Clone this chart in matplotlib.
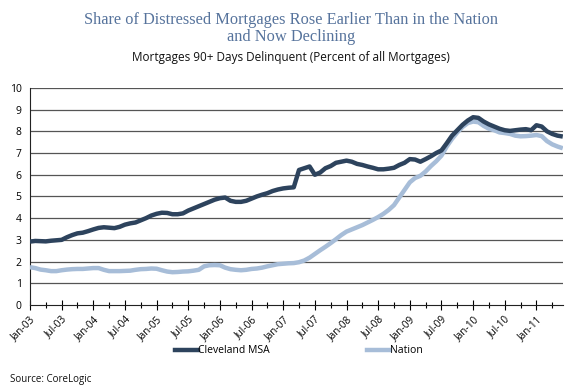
import numpy as np
import matplotlib
matplotlib.use("Agg")
import matplotlib.pyplot as plt

plt.rcParams["font.family"] = ["Open Sans", "DejaVu Sans"]

# monthly data, Jan-03 .. Jun-11
tick_labels = ["Jan-03", "Jul-03", "Jan-04", "Jul-04", "Jan-05", "Jul-05",
               "Jan-06", "Jul-06", "Jan-07", "Jul-07", "Jan-08", "Jul-08",
               "Jan-09", "Jul-09", "Jan-10", "Jul-10", "Jan-11"]

cleveland = [
    2.92, 2.95, 2.94, 2.93, 2.96, 2.98, 3.00, 3.12, 3.22, 3.30, 3.33, 3.40,
    3.48, 3.55, 3.58, 3.56, 3.54, 3.60, 3.70, 3.76, 3.80, 3.90, 4.00, 4.12,
    4.20, 4.25, 4.24, 4.18, 4.18, 4.22, 4.35, 4.45, 4.55, 4.65, 4.75, 4.85,
    4.92, 4.95, 4.80, 4.75, 4.75, 4.80, 4.90, 5.00, 5.08, 5.15, 5.25, 5.32,
    5.37, 5.40, 5.42, 6.22, 6.30, 6.38, 6.00, 6.10, 6.30, 6.40, 6.55, 6.60,
    6.65, 6.60, 6.50, 6.45, 6.38, 6.32, 6.25, 6.25, 6.28, 6.32, 6.45, 6.55,
    6.72, 6.70, 6.60, 6.72, 6.85, 7.00, 7.12, 7.45, 7.80, 8.05, 8.30, 8.50,
    8.65, 8.62, 8.45, 8.32, 8.22, 8.12, 8.05, 8.02, 8.05, 8.08, 8.10, 8.05,
    8.28, 8.22, 8.00, 7.88, 7.80, 7.76,
]

nation = [
    1.74, 1.70, 1.63, 1.60, 1.56, 1.56, 1.60, 1.63, 1.65, 1.66, 1.66, 1.68,
    1.70, 1.70, 1.62, 1.56, 1.56, 1.56, 1.57, 1.58, 1.62, 1.65, 1.66, 1.68,
    1.67, 1.60, 1.54, 1.51, 1.52, 1.54, 1.55, 1.58, 1.62, 1.78, 1.83, 1.84,
    1.83, 1.72, 1.65, 1.62, 1.60, 1.62, 1.66, 1.68, 1.72, 1.78, 1.83, 1.88,
    1.90, 1.92, 1.93, 1.97, 2.05, 2.18, 2.35, 2.52, 2.68, 2.85, 3.03, 3.22,
    3.38, 3.48, 3.58, 3.68, 3.80, 3.92, 4.05, 4.20, 4.38, 4.60, 4.95, 5.30,
    5.65, 5.85, 5.95, 6.15, 6.40, 6.62, 6.88, 7.30, 7.65, 7.95, 8.20, 8.38,
    8.45, 8.42, 8.25, 8.12, 8.05, 7.95, 7.92, 7.88, 7.80, 7.77, 7.78, 7.80,
    7.83, 7.78, 7.55, 7.40, 7.30, 7.22,
]

x = np.arange(len(cleveland))

fig = plt.figure(figsize=(5.82, 3.89), dpi=100)
ax = fig.add_axes([0.0515, 0.216, 0.9155, 0.558])

for v in range(1, 11):
    ax.axhline(v, color="#555555", linewidth=0.9, zorder=1)

ax.plot(x, nation, color="#a7bdd8", linewidth=3.2, solid_capstyle="butt",
        label="Nation", zorder=3)
ax.plot(x, cleveland, color="#2d435d", linewidth=3.2, solid_capstyle="butt",
        label="Cleveland MSA", zorder=4)

ax.set_xlim(0, len(x) - 1)
ax.set_ylim(0, 10)
ax.set_yticks(range(0, 11))
ax.set_xticks(np.arange(0, len(x), 6))
ax.set_xticklabels(tick_labels, rotation=45, ha="right", rotation_mode="anchor",
                   fontsize=7.2)
ax.set_xticks(np.arange(0, len(x), 3), minor=True)
ax.tick_params(axis="x", which="major", direction="inout", length=7, width=0.8,
               pad=3)
ax.tick_params(axis="x", which="minor", direction="inout", length=5, width=0.8)
ax.tick_params(axis="y", length=0, labelsize=7.5, pad=6)

for s in ["top", "right"]:
    ax.spines[s].set_visible(False)
ax.spines["left"].set_color("#222222")
ax.spines["bottom"].set_color("#222222")

fig.text(0.5, 0.97, "Share of Distressed Mortgages Rose Earlier Than in the Nation\nand Now Declining",
         ha="center", va="top", fontsize=11.8, color="#56739c",
         family=["Liberation Serif", "DejaVu Serif"], linespacing=1.1)
fig.text(0.5, 0.852, "Mortgages 90+ Days Delinquent (Percent of all Mortgages)",
         ha="center", va="center", fontsize=8.5, color="#111111")

h_c, = ax.plot([], [], color="#2d435d", linewidth=3.2)
h_n, = ax.plot([], [], color="#a7bdd8", linewidth=3.2)
fig.legend([h_c], ["Cleveland MSA"], loc="center left",
           bbox_to_anchor=(0.285, 0.098), frameon=False, fontsize=7.5,
           handlelength=2.2, handletextpad=0.0)
fig.legend([h_n], ["Nation"], loc="center left",
           bbox_to_anchor=(0.615, 0.098), frameon=False, fontsize=7.5,
           handlelength=2.2, handletextpad=0.0)

fig.text(0.017, 0.025, "Source: CoreLogic", ha="left", va="center", fontsize=7,
         color="#111111")

fig.savefig("out.png", dpi=100)
